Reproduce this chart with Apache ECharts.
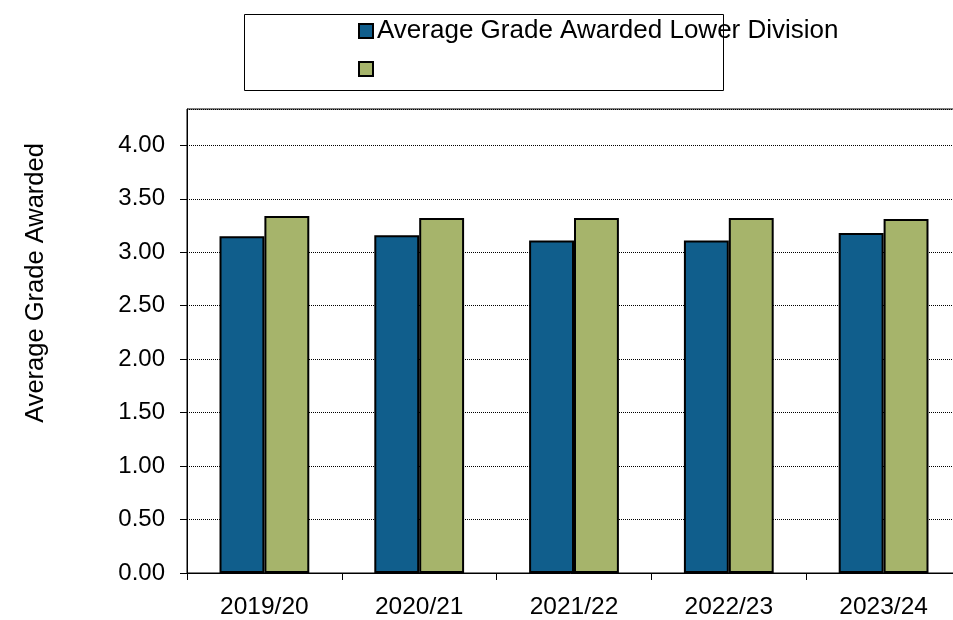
<!DOCTYPE html>
<html>
<head>
<meta charset="utf-8">
<script src="https://cdn.jsdelivr.net/npm/echarts@6/dist/echarts.min.js"></script>
<style>
	html, body { margin: 0; padding: 0; background: #fff; }
	#grades { width: 953px; height: 620px; }
</style>
</head>
<body>
<div id="grades"></div>
<script>
// data
var years = ['2019/20', '2020/21', '2021/22', '2022/23', '2023/24'];
var lowerDiv = [3.15, 3.16, 3.11, 3.11, 3.18];
var otherDiv = [3.34, 3.32, 3.32, 3.32, 3.31];
var seriesNames = ['Average Grade Awarded Lower Division', ' '];
var yTitle = 'Average Grade Awarded';

var font = 'Liberation Sans, Arial, sans-serif';

var option = {
	animation: false,
	backgroundColor: '#fff',
	textStyle: { fontFamily: font },
	graphic: [
		{
			type: 'rect',
			shape: { x: 244.5, y: 14.5, width: 479, height: 76 },
			style: { fill: '#fff', stroke: '#000', lineWidth: 1 },
			z: -1
		},
		{
			type: 'text',
			x: 36,
			y: 283,
			rotation: Math.PI / 2,
			style: {
				text: yTitle,
				fontFamily: font,
				fontSize: 25.5,
				fill: '#000',
				align: 'center',
				verticalAlign: 'middle'
			}
		}
	],
	legend: {
		orient: 'vertical',
		left: 358,
		top: 18,
		padding: 0,
		itemWidth: 14,
		itemHeight: 14,
		itemGap: 12,
		icon: 'rect',
		textStyle: { fontSize: 26, lineHeight: 26, color: '#000', padding: [0, 0, 0, -1] },
		data: seriesNames
	},
	grid: {
		left: 187,
		right: -8,
		top: 109,
		bottom: 47,
		show: true,
		borderColor: '#000',
		borderWidth: 1,
		outerBoundsMode: 'none'
	},
	xAxis: {
		type: 'category',
		data: years,
		axisLine: { lineStyle: { color: '#000', width: 1 } },
		axisTick: { show: true, length: 7, inside: false, alignWithLabel: false, lineStyle: { color: '#000' } },
		axisLabel: { color: '#000', fontSize: 24.5, margin: 22, interval: 0 },
		splitLine: { show: false }
	},
	yAxis: {
		type: 'value',
		min: 0,
		max: 4.34,
		interval: 0.5,
		axisLine: { show: true, lineStyle: { color: '#000', width: 1 } },
		axisTick: { show: true, length: 7, lineStyle: { color: '#000' } },
		axisLabel: {
			color: '#000',
			fontSize: 24,
			margin: 22,
			showMaxLabel: false,
			formatter: function(v) { return v.toFixed(2); }
		},
		splitLine: { show: true, lineStyle: { color: '#000', width: 1, type: [1, 1] } }
	},
	series: [
		{
			name: seriesNames[0],
			type: 'bar',
			data: lowerDiv,
			barGap: '0%',
			barCategoryGap: '42%',
			itemStyle: { color: '#105E8C', borderColor: '#000', borderWidth: 2 }
		},
		{
			name: seriesNames[1],
			type: 'bar',
			data: otherDiv,
			itemStyle: { color: '#A6B46B', borderColor: '#000', borderWidth: 2 }
		}
	]
};

var chart = echarts.init(document.getElementById('grades'));
chart.setOption(option, true);
</script>
</body>
</html>
